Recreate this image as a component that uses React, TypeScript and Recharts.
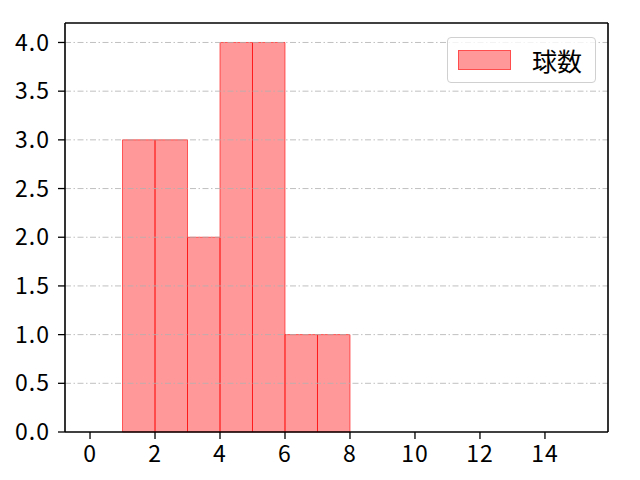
import React from 'react';
import {
  ComposedChart, XAxis, YAxis, ReferenceArea, ReferenceLine,
} from 'recharts';

const binEdges = [1, 2, 3, 4, 5, 6, 7, 8];
const binCounts = [3, 3, 2, 4, 4, 1, 1];
const xTicks = [0, 2, 4, 6, 8, 10, 12, 14];
const yTicks = [0, 0.5, 1.0, 1.5, 2.0, 2.5, 3.0, 3.5, 4.0];
const seriesName = '球数';

const X_DOMAIN = [-0.77, 15.94];
const Y_DOMAIN = [0, 4.2];

const FONT = '"Noto Sans CJK JP", "DejaVu Sans", sans-serif';
const tickStyle = { fontSize: 23, fill: '#000', fontFamily: FONT, letterSpacing: 1 };

const bins = binCounts.map((c, i) => ({ x0: binEdges[i], x1: binEdges[i + 1], count: c }));

function LegendBox() {
  return (
    <div style={{
      position: 'absolute', left: 447, top: 37, width: 149, height: 46, boxSizing: 'border-box',
      border: '1px solid #d0d0d0', borderRadius: 4, background: 'rgba(255,255,255,0.8)',
      display: 'flex', alignItems: 'center', fontFamily: FONT, fontSize: 25,
    }}>
      <span style={{ display: 'inline-block', marginLeft: 10, width: 53, height: 20, boxSizing: 'border-box', background: 'rgba(255,0,0,0.4)', border: '1px solid rgba(255,0,0,0.5)', marginRight: 21 }} />
      <span>{seriesName}</span>
    </div>
  );
}

export default function App() {
  return (
    <div style={{ position: 'absolute', left: 0, top: 0, width: 640, height: 480, background: '#fff' }}>
      <ComposedChart width={640} height={480} data={bins} margin={{ top: 23, right: 32, bottom: 0, left: 0 }}>
        <XAxis type="number" dataKey="x0" domain={X_DOMAIN} ticks={xTicks} allowDataOverflow
          tick={tickStyle} tickLine={{ stroke: '#000', strokeWidth: 1.3 }} axisLine={{ stroke: '#000', strokeWidth: 1.6 }}
          tickSize={7} tickMargin={7} height={48} interval={0} />
        <YAxis type="number" domain={Y_DOMAIN} ticks={yTicks} allowDataOverflow
          tick={tickStyle} tickLine={{ stroke: '#000', strokeWidth: 1.3 }} axisLine={{ stroke: '#000', strokeWidth: 1.6 }}
          tickSize={7} tickMargin={8} width={65} interval={0} tickFormatter={(v: number) => v.toFixed(1)} />
        {bins.map((b) => (
          <ReferenceArea key={b.x0} x1={b.x0} x2={b.x1} y1={0} y2={b.count}
            fill="#ff0000" fillOpacity={0.4} stroke="#ff0000" strokeOpacity={0.6} strokeWidth={1} />
        ))}
        {yTicks.slice(1).map((v) => (
          <ReferenceLine key={v} y={v} stroke="#b0b0b0" strokeWidth={0.8} strokeDasharray="6 2.5 1.5 2.5" />
        ))}
        <ReferenceLine y={Y_DOMAIN[1]} stroke="#000" strokeWidth={1.6} />
        <ReferenceLine x={X_DOMAIN[1]} stroke="#000" strokeWidth={1.6} />
      </ComposedChart>
      <LegendBox />
    </div>
  );
}
